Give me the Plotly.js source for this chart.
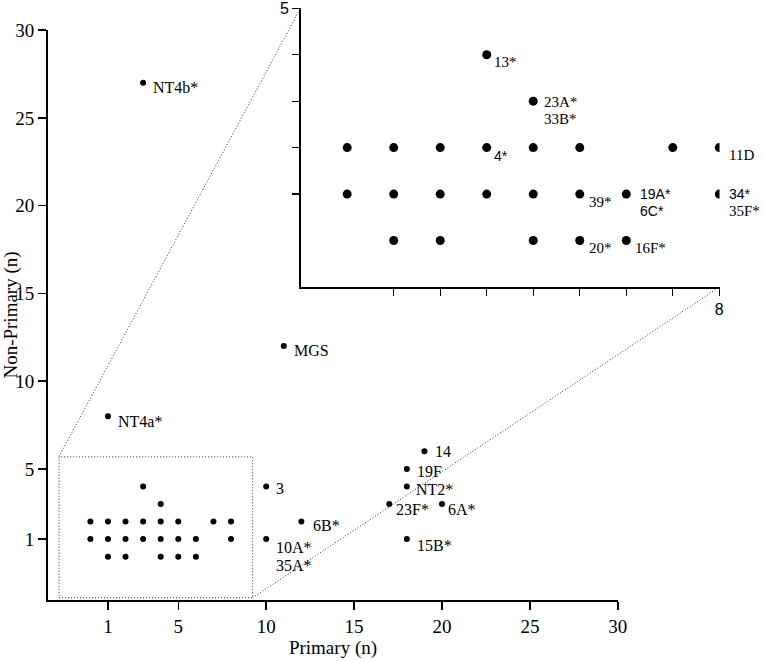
<!DOCTYPE html>
<html>
<head>
<meta charset="utf-8">
<script src="https://cdn.plot.ly/plotly-3.0.1.min.js"></script>
<style>
html,body{margin:0;padding:0;background:#fff;}
#chart{width:764px;height:661px;}
</style>
</head>
<body>
<div id="chart"></div>
<script>
// ---- data ----
const clusterX = [0,1,2,3,4,5,7,8, 0,1,2,3,4,5,6,8, 1,2,4,5,6, 3, 4];
const clusterY = [2,2,2,2,2,2,2,2, 1,1,1,1,1,1,1,1, 0,0,0,0,0, 4, 3];

const outerX = [3, 11, 1, 10, 12, 10, 19, 18, 18, 17, 20, 18];
const outerY = [27, 12, 8, 4, 2, 1, 6, 5, 4, 3, 3, 1];
const outerLabels = ["NT4b*", "MGS", "NT4a*", "3", "6B*", "10A*\n35A*", "14", "19F", "NT2*", "23F*", "6A*", "15B*"];

const insetLabX = [3, 4, 3, 8, 5, 6, 8, 5, 6];
const insetLabY = [4, 3, 2, 2, 1, 1, 1, 0, 0];
const insetLabels = ["13*", "23A*\n33B*", "4*", "11D", "39*", "19A*\n6C*", "34*\n35F*", "20*", "16F*"];

const mainTicks = [1, 5, 10, 15, 20, 25, 30];
const insetXTicks = [1, 2, 3, 4, 5, 6, 7, 8];
const insetXText = ["", "", "", "", "", "", "", "8"];
const insetYTicks = [1, 2, 3, 4, 5];
const insetYText = ["", "", "", "", "5"];

// ---- styling / placement (pixel offsets of labels from their points) ----
const outerOffsets = [[8,5],[8,4],[8,5],[8,2],[10,4],[8,8],[9,0],[8,3],[7,3],[5,5],[4,5],[8,6]];
const insetOffsets = [[5,7],[9,1],[5,8],[8,7],[7,8],[12,0],[8,0],[7,7],[7,7]];
const sansLines = new Set(["4*", "19A*", "6C*", "34*"]);
const SERIF = "'Liberation Serif', 'Times New Roman', serif";
const SANS = "'Liberation Sans', Arial, sans-serif";
const DOT = {color: "#333", width: 1, dash: "1px,2px"};

const annotations = [];
function addLabels(xs, ys, labels, offsets, xref, yref, serifSize, sansSize, lineGap) {
  labels.forEach((lab, i) => {
    lab.split("\n").forEach((line, j) => {
      const sans = sansLines.has(line);
      annotations.push({
        x: xs[i], y: ys[i], xref: xref, yref: yref,
        text: line, showarrow: false,
        xanchor: "left", yanchor: "middle",
        xshift: offsets[i][0], yshift: -(offsets[i][1] + j * lineGap),
        font: {family: sans ? SANS : SERIF, size: sans ? sansSize : serifSize, color: "#000"}
      });
    });
  });
}
addLabels(outerX, outerY, outerLabels, outerOffsets, "x", "y", 16, 15, 18);
addLabels(insetLabX, insetLabY, insetLabels, insetOffsets, "x2", "y2", 15, 14, 17);

const traces = [
  {x: clusterX, y: clusterY, xaxis: "x", yaxis: "y", mode: "markers", type: "scatter",
   marker: {color: "#000", size: 6}, hoverinfo: "skip", showlegend: false},
  {x: outerX, y: outerY, xaxis: "x", yaxis: "y", mode: "markers", type: "scatter",
   marker: {color: "#000", size: 6}, hoverinfo: "skip", showlegend: false},
  {x: clusterX, y: clusterY, xaxis: "x2", yaxis: "y2", mode: "markers", type: "scatter",
   marker: {color: "#000", size: 9}, hoverinfo: "skip", showlegend: false}
];

const axisCommon = {showgrid: false, zeroline: false, showline: true, linecolor: "#000",
  ticks: "outside", tickcolor: "#000", fixedrange: true, ticklabeloverflow: "allow"};

const layout = {
  width: 764, height: 661,
  margin: {l: 48, r: 44, t: 8, b: 61, pad: 0},
  paper_bgcolor: "#fff", plot_bgcolor: "rgba(0,0,0,0)",
  showlegend: false,
  xaxis: Object.assign({}, axisCommon, {
    domain: [0, 0.8482], range: [-2.41, 30.01], tickmode: "array", tickvals: mainTicks,
    linewidth: 2, tickwidth: 1.5, ticklen: 8, anchor: "y",
    tickfont: {family: SERIF, size: 19, color: "#000"},
    title: {text: "Primary (n)", font: {family: SERIF, size: 19, color: "#000"}, standoff: 4}
  }),
  yaxis: Object.assign({}, axisCommon, {
    domain: [0, 0.9628], range: [-2.47, 30.01], tickmode: "array", tickvals: mainTicks,
    linewidth: 2, tickwidth: 1.5, ticklen: 8, anchor: "x",
    tickfont: {family: SERIF, size: 19, color: "#000"},
    title: {text: "Non-Primary (n)", font: {family: SERIF, size: 19, color: "#000"}, standoff: 4}
  }),
  xaxis2: Object.assign({}, axisCommon, {
    domain: [0.376, 0.9993], range: [-1, 8.005], anchor: "y2",
    tickmode: "array", tickvals: insetXTicks, ticktext: insetXText,
    linewidth: 1.5, tickwidth: 1.2, ticklen: 7,
    tickfont: {family: SANS, size: 16, color: "#000"}
  }),
  yaxis2: Object.assign({}, axisCommon, {
    domain: [0.5287, 1.0], range: [-1, 5.005], anchor: "x2",
    tickmode: "array", tickvals: insetYTicks, ticktext: insetYText,
    linewidth: 1.5, tickwidth: 1.2, ticklen: 7,
    tickfont: {family: SANS, size: 16, color: "#000"}
  }),
  shapes: [
    {type: "rect", xref: "x", yref: "y", x0: -1.78, x1: 9.23, y0: -2.34, y1: 5.69,
     line: DOT, fillcolor: "rgba(0,0,0,0)", layer: "above"},
    {type: "line", xref: "paper", yref: "paper", x0: 0.0164, y0: 0.2424, x1: 0.376, y1: 1.0, line: DOT},
    {type: "line", xref: "paper", yref: "paper", x0: 0.3046, y0: 0.0039, x1: 0.9993, y1: 0.5287, line: DOT}
  ],
  annotations: annotations
};

Plotly.newPlot("chart", traces, layout, {displayModeBar: false, staticPlot: true});
</script>
</body>
</html>
